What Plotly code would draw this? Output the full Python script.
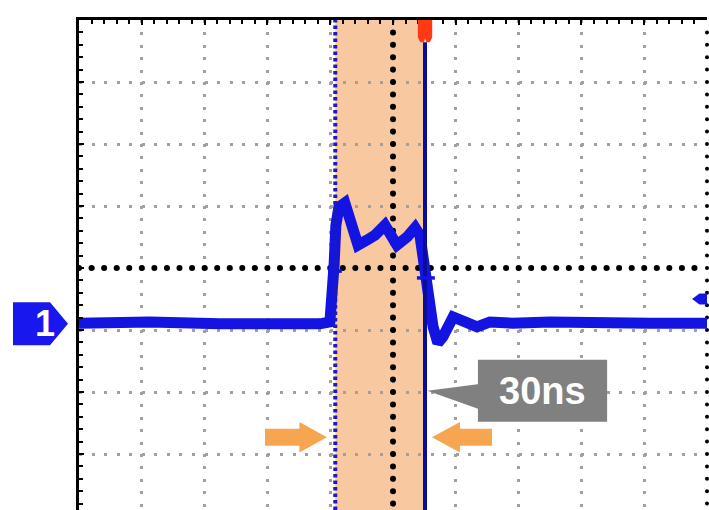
import numpy as np
import plotly.graph_objects as go

# Channel 1 capture: time in ns, amplitude in vertical divisions
time_ns = [-105.0, -81.3, -57.9, -37.8, -31.1, -24.4, -21.1, -20.4, -19.7, -19.1,
           -18.1, -16.1, -14.4, -11.7, -8.7, -6.0, -2.7, -0.3, 1.3, 4.7,
           7.4, 9.0, 10.0, 10.7, 11.7, 13.4, 15.0, 16.7, 20.1, 24.1,
           28.1, 32.4, 40.0, 52.5, 69.2, 85.9, 105.0]
ch1_div = [-0.89, -0.87, -0.90, -0.89, -0.92, -0.90, -0.87, -0.52, 0.05, 0.69,
           0.98, 1.05, 0.81, 0.37, 0.45, 0.53, 0.69, 0.53, 0.37, 0.50,
           0.65, 0.53, 0.18, -0.15, -0.63, -0.95, -1.21, -1.11, -0.79, -0.89,
           -0.95, -0.87, -0.89, -0.87, -0.90, -0.89, -0.89]

# Time cursors (ns), channel offset and trigger level (divisions)
cursor_a_ns = -19.3
cursor_b_ns = 10.7
ch1_offset_div = -0.9
trigger_level_div = -0.5
channel_label = "1"

# Screen geometry
NS_PER_DIV = 21.0
X0, X1 = -5 * NS_PER_DIV, 5 * NS_PER_DIV
Y0, Y1 = -3.903, 4.0
PLOT_W, PLOT_H = 628, 490

BLUE = "#1414E2"
NAVY = "#0C0C9C"
ORANGE = "#F6A651"
BAND = "#F8C9A0"
GRID = "#A0A0A0"
FONT = "Liberation Sans, Arial, sans-serif"


def ypaper(y):
    return (y - Y0) / (Y1 - Y0)


def xpaper_px(px_from_left):
    return px_from_left / PLOT_W


fig = go.Figure()

# Black dotted centre lines of the graticule
hx = np.arange(X0, X1 + 1e-9, NS_PER_DIV / 5)
vy = np.arange(-3.8, Y1 + 1e-9, 0.2)
fig.add_trace(go.Scatter(x=hx, y=np.zeros_like(hx), mode="markers",
                         marker=dict(color="black", size=6), hoverinfo="skip",
                         cliponaxis=False))
fig.add_trace(go.Scatter(x=np.zeros_like(vy), y=vy, mode="markers",
                         marker=dict(color="black", size=6), hoverinfo="skip"))
# Dotted right edge of the screen
fig.add_trace(go.Scatter(x=np.full_like(vy, X1), y=vy, mode="markers",
                         marker=dict(color="black", size=4), hoverinfo="skip",
                         cliponaxis=False))

# Channel 1 waveform
fig.add_trace(go.Scatter(x=time_ns, y=ch1_div, mode="lines",
                         line=dict(color=BLUE, width=11),
                         hoverinfo="skip"))

shapes = []
# Cursor window
shapes.append(dict(type="rect", xref="x", yref="y", x0=cursor_a_ns, x1=cursor_b_ns,
                   y0=Y0, y1=Y1, fillcolor=BAND, line=dict(width=0), layer="below"))
# Cursor A (dotted) and cursor B (solid)
shapes.append(dict(type="line", xref="x", yref="y", x0=cursor_a_ns, x1=cursor_a_ns,
                   y0=Y0, y1=Y1, line=dict(color="#1C1CB4", width=4, dash="3.5px,3px")))
shapes.append(dict(type="line", xref="x", yref="y", x0=cursor_b_ns, x1=cursor_b_ns,
                   y0=Y0, y1=3.64, line=dict(color=NAVY, width=4)))
# Cursor crossing marks on the centre line
shapes.append(dict(type="line", xref="x", yref="y", x0=cursor_a_ns - 2.4, x1=cursor_a_ns + 2.2,
                   y0=-0.05, y1=-0.05, line=dict(color=BLUE, width=3.5)))
shapes.append(dict(type="line", xref="x", yref="y", x0=cursor_b_ns - 2.7, x1=cursor_b_ns + 3.3,
                   y0=-0.16, y1=-0.16, line=dict(color=BLUE, width=3.5)))
# Trigger position marker at the top
c = cursor_b_ns
shapes.append(dict(type="path", xref="x", yref="y",
                   path=(f"M {c-2.4},{Y1} L {c+2.4},{Y1} L {c+2.4},3.72 L {c+1.6},3.64 "
                         f"L {c+0.5},3.64 L {c},3.70 L {c-0.5},3.64 L {c-1.6},3.64 L {c-2.4},3.72 Z"),
                   fillcolor="#FF3A12", line=dict(width=0)))
# Trigger level marker at the right edge
t = trigger_level_div
shapes.append(dict(type="path", xref="x", yref="y",
                   path=f"M {X1-5},{t} L {X1-2.5},{t+0.09} L {X1},{t+0.09} L {X1},{t-0.09} L {X1-2.5},{t-0.09} Z",
                   fillcolor=BLUE, line=dict(width=0)))
# Measurement callout
bx0, bx1, by0, by1 = 28.4, 71.6, -2.48, -1.48
shapes.append(dict(type="path", xref="x", yref="y",
                   path=f"M {cursor_b_ns+0.8},-1.98 L {bx0+0.5},-1.87 L {bx0+0.5},-2.28 Z",
                   fillcolor="#808080", line=dict(width=0)))
shapes.append(dict(type="rect", xref="x", yref="y", x0=bx0, x1=bx1, y0=by0, y1=by1,
                   fillcolor="#808080", line=dict(width=0)))
# Orange arrows pointing at the cursors
ay = -2.73
ta = cursor_a_ns - 2.8
shapes.append(dict(type="path", xref="x", yref="y",
                   path=(f"M {ta-20.7},{ay+0.137} L {ta-9.2},{ay+0.137} L {ta-9.2},{ay+0.245} "
                         f"L {ta},{ay} L {ta-9.2},{ay-0.245} L {ta-9.2},{ay-0.137} L {ta-20.7},{ay-0.137} Z"),
                   fillcolor=ORANGE, line=dict(width=0)))
tb = cursor_b_ns + 2.3
shapes.append(dict(type="path", xref="x", yref="y",
                   path=(f"M {tb+20.1},{ay+0.137} L {tb+9.4},{ay+0.137} L {tb+9.4},{ay+0.245} "
                         f"L {tb},{ay} L {tb+9.4},{ay-0.245} L {tb+9.4},{ay-0.137} L {tb+20.1},{ay-0.137} Z"),
                   fillcolor=ORANGE, line=dict(width=0)))
# Channel 1 offset marker on the left
yc = ypaper(ch1_offset_div)
hh = 21.5 / PLOT_H
xl, xm, xt = xpaper_px(13 - 79), xpaper_px(50 - 79), xpaper_px(68 - 79)
shapes.append(dict(type="path", xref="paper", yref="paper",
                   path=f"M {xl},{yc+hh} L {xm},{yc+hh} L {xt},{yc} L {xm},{yc-hh} L {xl},{yc-hh} Z",
                   fillcolor="#1818EE", line=dict(width=0)))

annotations = [
    dict(x=(bx0 + bx1) / 2, y=(by0 + by1) / 2, xref="x", yref="y",
         text=f"<b>{cursor_b_ns - cursor_a_ns:.0f}ns</b>", showarrow=False,
         font=dict(family=FONT, size=38, color="white")),
    dict(x=xpaper_px(33 - 79), y=yc, xref="paper", yref="paper",
         text=f"<b>{channel_label}</b>", showarrow=False,
         font=dict(family=FONT, size=36, color="white")),
]

fig.update_layout(
    width=709, height=510,
    margin=dict(l=79, r=2, t=20, b=0, pad=0),
    paper_bgcolor="white", plot_bgcolor="white",
    showlegend=False,
    shapes=shapes, annotations=annotations,
    xaxis=dict(range=[X0, X1], side="top", showline=True, linecolor="black", linewidth=3,
               showgrid=True, gridcolor=GRID, gridwidth=3, griddash="3px,9.4px",
               zeroline=False, tick0=0, dtick=NS_PER_DIV, ticks="inside", ticklen=5,
               tickwidth=2, tickcolor="black", showticklabels=False,
               minor=dict(dtick=NS_PER_DIV / 5, ticks="inside", ticklen=4, tickwidth=2,
                          tickcolor="black", showgrid=False),
               fixedrange=True),
    yaxis=dict(range=[Y0, Y1], showline=True, linecolor="black", linewidth=3,
               showgrid=True, gridcolor=GRID, gridwidth=3, griddash="3px,9.56px",
               zeroline=False, tick0=0, dtick=1, ticks="inside", ticklen=5,
               tickwidth=2, tickcolor="black", showticklabels=False,
               minor=dict(dtick=0.2, ticks="inside", ticklen=4, tickwidth=2,
                          tickcolor="black", showgrid=False),
               fixedrange=True),
)

fig.write_html("out.html")
